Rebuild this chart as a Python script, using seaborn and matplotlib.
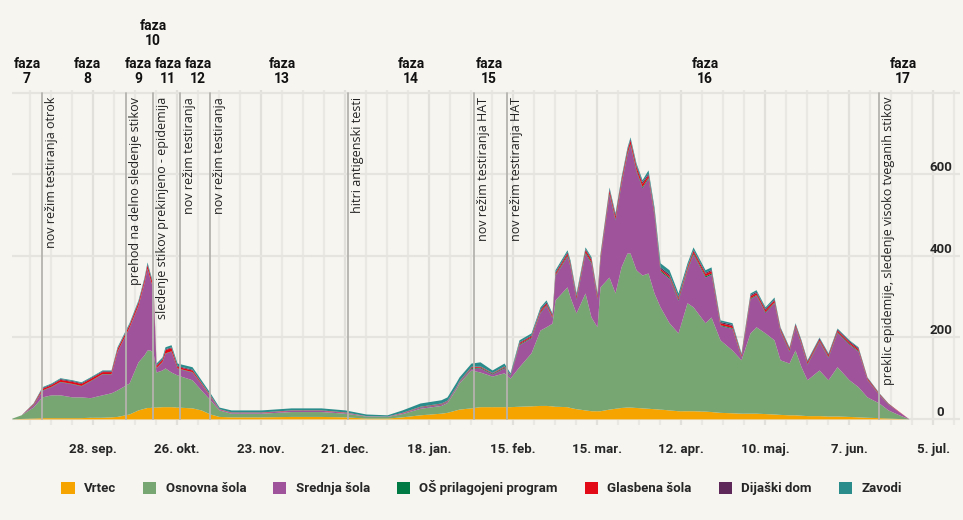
import matplotlib
matplotlib.use("Agg")
import matplotlib.pyplot as plt
import matplotlib.dates as mdates
import matplotlib.transforms as mtransforms
from matplotlib.patches import Patch
import pandas as pd
import seaborn as sns

# daily counts (active cases by institution type)
dates = ["2020-09-01", "2020-09-04", "2020-09-08", "2020-09-11", "2020-09-14", "2020-09-17",
         "2020-09-21", "2020-09-24", "2020-09-27", "2020-10-01", "2020-10-04", "2020-10-06",
         "2020-10-10", "2020-10-13", "2020-10-15", "2020-10-16", "2020-10-17", "2020-10-18",
         "2020-10-19", "2020-10-21", "2020-10-22", "2020-10-24", "2020-10-26", "2020-10-31",
         "2020-11-03", "2020-11-06", "2020-11-09", "2020-11-13", "2020-11-23", "2020-12-03",
         "2020-12-13", "2020-12-21", "2020-12-28", "2021-01-04", "2021-01-09", "2021-01-15",
         "2021-01-22", "2021-01-24", "2021-01-27", "2021-01-28", "2021-02-01", "2021-02-04",
         "2021-02-08", "2021-02-12", "2021-02-14", "2021-02-17", "2021-02-21", "2021-02-24",
         "2021-02-26", "2021-02-28", "2021-03-01", "2021-03-05", "2021-03-06", "2021-03-08",
         "2021-03-11", "2021-03-13", "2021-03-15", "2021-03-16", "2021-03-19", "2021-03-21",
         "2021-03-23", "2021-03-25", "2021-03-26", "2021-03-28", "2021-03-30", "2021-04-01",
         "2021-04-03", "2021-04-05", "2021-04-08", "2021-04-11", "2021-04-14", "2021-04-16",
         "2021-04-20", "2021-04-22", "2021-04-25", "2021-04-29", "2021-05-02", "2021-05-05",
         "2021-05-07", "2021-05-10", "2021-05-13", "2021-05-15", "2021-05-18", "2021-05-20",
         "2021-05-22", "2021-05-24", "2021-05-28", "2021-05-31", "2021-06-03", "2021-06-07",
         "2021-06-10", "2021-06-13", "2021-06-17", "2021-06-20", "2021-06-23", "2021-06-27"]

vrtec = [0, 1, 2, 3, 3, 3, 3, 3, 4, 4, 5, 6,
         12, 22, 26, 28, 28, 29, 29, 30, 30, 30, 29, 27,
         22, 12, 6, 5, 5, 6, 6, 5, 2, 2, 5, 10,
         14, 16, 22, 24, 27, 30, 30, 30, 30, 31, 32, 33,
         33, 32, 31, 30, 28, 25, 22, 20, 20, 20, 24, 26,
         28, 29, 29, 28, 27, 26, 25, 24, 22, 20, 20, 20,
         19, 18, 16, 15, 14, 14, 14, 13, 12, 11, 10, 10,
         9, 8, 8, 7, 7, 6, 5, 4, 3, 2, 1, 0]

osnovna = [2, 9, 27, 51, 56, 56, 51, 51, 48, 55, 59, 65,
           76, 118, 131, 141, 141, 135, 86, 90, 95, 85, 79, 69,
           49, 35, 16, 9, 9, 12, 12, 9, 5, 4, 8, 16,
           19, 24, 52, 64, 93, 85, 75, 83, 70, 97, 130, 185,
           193, 203, 261, 294, 271, 235, 287, 230, 206, 304, 324, 283,
           345, 378, 378, 338, 326, 332, 284, 251, 214, 191, 265, 255,
           217, 232, 178, 154, 131, 197, 212, 198, 182, 134, 127, 159,
           119, 88, 112, 89, 121, 90, 74, 50, 36, 20, 11, 0]

srednja = [0, 0, 5, 16, 20, 32, 32, 27, 41, 51, 46, 94,
           136, 138, 177, 200, 173, 155, 10, 20, 36, 51, 16, 19,
           14, 8, 2, 2, 2, 3, 3, 2, 1, 1, 2, 3,
           3, 3, 3, 3, 4, 10, 5, 12, 5, 54, 37, 43,
           52, 13, 60, 75, 75, 33, 97, 132, 67, 67, 203, 179,
           203, 242, 265, 242, 214, 232, 190, 87, 109, 80, 80, 129,
           112, 105, 35, 53, 6, 84, 77, 50, 91, 70, 29, 56,
           55, 38, 70, 55, 84, 87, 87, 42, 20, 14, 9, 0]

os_prilagojeni = [0, 0, 1, 1, 1, 1, 1, 1, 1, 1, 1, 1,
                  1, 1, 1, 1, 1, 1, 1, 1, 1, 1, 1, 1,
                  1, 1, 0, 0, 0, 0, 0, 0, 0, 0, 0, 1,
                  1, 1, 1, 1, 2, 2, 2, 2, 2, 2, 2, 2,
                  2, 2, 2, 3, 3, 3, 3, 3, 3, 3, 3, 3,
                  3, 3, 3, 3, 3, 3, 3, 3, 3, 3, 3, 3,
                  3, 3, 2, 2, 2, 2, 2, 2, 2, 2, 2, 2,
                  2, 2, 2, 2, 2, 2, 2, 1, 1, 1, 0, 0]

glasbena = [0, 0, 2, 4, 4, 5, 5, 5, 5, 5, 5, 6,
            6, 7, 7, 8, 8, 7, 5, 5, 8, 8, 4, 4,
            3, 2, 1, 1, 1, 1, 1, 1, 0, 0, 1, 1,
            1, 1, 1, 1, 2, 2, 1, 2, 1, 3, 3, 4,
            4, 4, 4, 5, 5, 5, 6, 6, 6, 6, 7, 7,
            7, 7, 9, 8, 8, 6, 6, 4, 4, 4, 5, 6,
            6, 6, 5, 5, 4, 5, 5, 5, 5, 4, 4, 4,
            4, 4, 4, 4, 4, 4, 4, 3, 2, 1, 1, 0]

dijaski_dom = [0, 0, 1, 2, 2, 2, 2, 2, 2, 2, 2, 2,
               2, 3, 3, 3, 3, 3, 2, 2, 2, 2, 2, 2,
               1, 1, 0, 0, 0, 0, 0, 0, 0, 0, 0, 0,
               1, 1, 1, 1, 1, 1, 1, 1, 1, 2, 2, 3,
               3, 3, 3, 3, 3, 3, 3, 3, 3, 3, 4, 4,
               4, 4, 4, 4, 4, 4, 4, 4, 4, 3, 3, 3,
               3, 3, 3, 3, 2, 3, 3, 3, 3, 3, 3, 3,
               3, 3, 3, 3, 3, 3, 3, 2, 1, 1, 0, 0]

zavodi = [0, 0, 1, 2, 2, 2, 2, 2, 2, 2, 2, 3,
          3, 3, 3, 4, 4, 4, 4, 4, 5, 5, 6, 6,
          6, 5, 4, 5, 5, 5, 5, 5, 4, 3, 6, 8,
          8, 8, 10, 9, 8, 10, 6, 7, 4, 5, 5, 5,
          5, 3, 5, 5, 5, 5, 4, 4, 4, 4, 4, 4,
          4, 4, 4, 5, 5, 8, 8, 10, 10, 8, 7, 6,
          6, 6, 4, 4, 3, 4, 4, 4, 4, 2, 2, 2,
          2, 2, 2, 2, 2, 2, 2, 1, 1, 0, 0, 0]

series_names = ["Vrtec", "Osnovna šola", "Srednja šola", "OŠ prilagojeni program",
                "Glasbena šola", "Dijaški dom", "Zavodi"]
series_colors = ["#f6a500", "#78a673", "#9e539a", "#007a45", "#e30a17", "#5e2858", "#2b8c8c"]

tick_dates = ["2020-09-28", "2020-10-26", "2020-11-23", "2020-12-21", "2021-01-18", "2021-02-15",
              "2021-03-15", "2021-04-12", "2021-05-10", "2021-06-07", "2021-07-05"]
tick_labels = ["28. sep.", "26. okt.", "23. nov.", "21. dec.", "18. jan.", "15. feb.",
               "15. mar.", "12. apr.", "10. maj.", "7. jun.", "5. jul."]

y_ticks = [0, 200, 400, 600, 800]
y_labels = ["0", "200", "400", "600", ""]

event_dates = ["2020-09-11", "2020-10-09", "2020-10-18", "2020-10-27", "2020-11-06",
               "2020-12-22", "2021-02-02", "2021-02-13", "2021-06-17"]
event_labels = ["nov režim testiranja otrok", "prehod na delno sledenje stikov",
                "sledenje stikov prekinjeno - epidemija", "nov režim testiranja",
                "nov režim testiranja", "hitri antigenski testi", "nov režim testiranja HAT",
                "nov režim testiranja HAT", "preklic epidemije, sledenje visoko tveganih stikov"]

phase_dates = ["2020-09-06", "2020-09-26", "2020-10-13", "2020-10-18", "2020-10-23", "2020-11-02",
               "2020-11-30", "2021-01-12", "2021-02-07", "2021-04-20", "2021-06-25"]
phase_labels = ["faza\n7", "faza\n8", "faza\n9", "faza\n10", "faza\n11", "faza\n12",
                "faza\n13", "faza\n14", "faza\n15", "faza\n16", "faza\n17"]
phase_raised = [False, False, False, True, False, False, False, False, False, False, False]

bg = "#f6f5f0"
sns.set_theme(style="white", rc={"figure.facecolor": bg, "axes.facecolor": bg})
plt.rcParams["font.family"] = ["Roboto", "DejaVu Sans"]

x = pd.to_datetime(dates)

fig = plt.figure(figsize=(9.63, 5.2), dpi=100)
ax = fig.add_axes([0.0125, 0.1827, 0.9844, 0.6442])

ax.stackplot(x, vrtec, osnovna, srednja, os_prilagojeni, glasbena, dijaski_dom, zavodi,
             colors=series_colors, linewidth=0, zorder=3)

ax.set_xlim(pd.Timestamp("2020-09-01"), pd.Timestamp("2021-07-14"))
ax.set_ylim(-15, 807)

# weekly faint grid + horizontal lines
ax.xaxis.set_minor_locator(mdates.WeekdayLocator(byweekday=mdates.MO))
ax.grid(which="minor", axis="x", color="#eae8e2", lw=1.6, zorder=0)
ax.set_xticks(pd.to_datetime(tick_dates))
ax.set_xticklabels(tick_labels, fontsize=9.5, fontweight="bold")
ax.grid(which="major", axis="x", color="#e2e0da", lw=1.6, zorder=0)
ax.tick_params(axis="x", which="major", length=6, color="#d2d0ca", pad=7)
ax.tick_params(axis="x", which="minor", length=0)

ax.yaxis.tick_right()
ax.set_yticks(y_ticks)
ax.set_yticklabels(y_labels, fontsize=9.5, fontweight="bold")
ax.tick_params(axis="y", length=0, pad=-14)
plt.setp(ax.get_yticklabels(), ha="center", va="bottom")
ax.grid(which="major", axis="y", color="#e6e4de", lw=1.6, zorder=0)
for s in ax.spines.values():
    s.set_visible(False)

# event lines with rotated notes
note_shift = mtransforms.offset_copy(ax.transData, fig=fig, x=7, y=0, units="points")
for d, lab in zip(event_dates, event_labels):
    t = pd.Timestamp(d)
    ax.axvline(t, ymin=0.018, ymax=0.99, color="#b5b3ae", lw=1.3, zorder=4)
    ax.text(t, 790, lab, rotation=90, ha="center", va="top", fontsize=9,
            family="Open Sans", color="#222222", transform=note_shift, zorder=6)

# phase headings above the plot
for d, lab, up in zip(phase_dates, phase_labels, phase_raised):
    ax.text(pd.Timestamp(d), 1.125 if up else 1.012, lab, transform=ax.get_xaxis_transform(),
            ha="center", va="bottom", fontsize=10, fontweight="bold", linespacing=1.1,
            color="#111111")

handles = [Patch(facecolor=c, edgecolor="none") for c in series_colors]
fig.legend(handles, series_names, loc="center", bbox_to_anchor=(0.5, 0.062), ncol=7,
           frameon=False, handlelength=1.0, handleheight=1.0, handletextpad=0.7,
           columnspacing=2.05, prop={"weight": "bold", "size": 9.5})

fig.savefig("out.png", dpi=100, facecolor=bg)
